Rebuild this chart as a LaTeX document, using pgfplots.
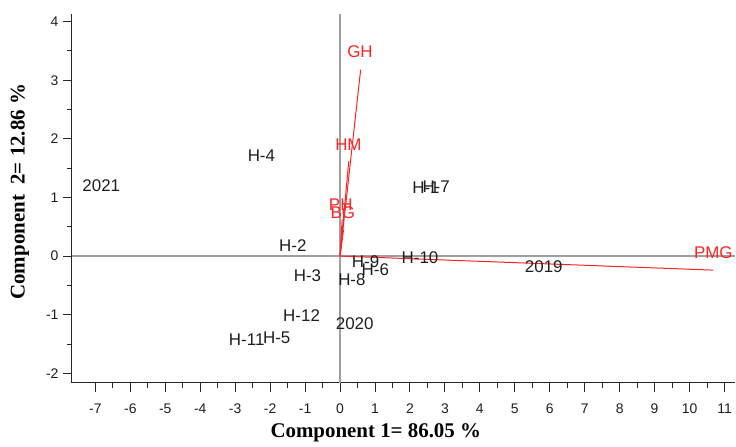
\documentclass[border=0pt]{standalone}
\usepackage{fontspec}
\setmainfont{Liberation Sans}
\newfontfamily\serif{Liberation Serif}
\usepackage{pgfplots}
\usepackage{pgfplotstable}
\pgfplotsset{compat=1.18}
\definecolor{vred}{RGB}{255,35,35}
\definecolor{txt}{RGB}{30,30,30}
\pgfplotstableread{
x y label
-6.83 1.20 2021
-2.25 1.72 H-4
-1.35 0.17 H-2
-0.93 -0.34 H-3
-1.10 -1.01 H-12
-2.67 -1.42 H-11
-1.81 -1.40 H-5
0.42 -1.15 2020
0.34 -0.40 H-8
0.73 -0.09 H-9
1.01 -0.23 H-6
2.29 -0.02 H-10
2.46 1.17 H-1
2.75 1.19 H-7
5.83 -0.18 2019
}\scores
\pgfplotstableread{
x y label
10.68 0.06 PMG
0.57 3.49 GH
0.24 1.90 HM
0.02 0.88 PH
0.08 0.74 BG
}\varlabels
\begin{document}
\begin{tikzpicture}
\begin{axis}[
  scale only axis,
  width=664bp, height=369bp,
  xmin=-7.67, xmax=11.31, ymin=-2.16, ymax=4.13,
  axis x line=bottom, axis y line=left,
  axis line style={-, black!85, line width=1bp},
  tick align=outside,
  xtick={-7,...,11}, ytick={-2,...,4},
  minor tick num=1,
  major tick length=9bp, minor tick length=5bp,
  tick style={black!85, line width=0.9bp},
  /pgf/number format/assume math mode=true,
  ticklabel style={font=\fontsize{14}{16}\selectfont, text=txt},
  xticklabel style={yshift=-9bp},
  yticklabel style={xshift=-1bp},
  xlabel={\serif\bfseries\fontsize{21}{24}\selectfont Component 1= 86.05 \%},
  ylabel={\serif\bfseries\fontsize{21}{24}\selectfont Component\ \ 2= 12.86 \%},
  every axis x label/.style={at={(rel axis cs:0.458,0)}, yshift=-50bp, anchor=center},
  every axis y label/.style={at={(rel axis cs:0,0.518)}, xshift=-52bp, rotate=90, anchor=center},
  clip=false,
]
\addplot[gray!75, line width=1.3bp] coordinates {(-7.67,0) (11.31,0)};
\addplot[gray!75, line width=1.3bp] coordinates {(0,-2.16) (0,4.13)};
\addplot[vred, line width=1bp] coordinates {(0,0) (10.68,-0.24)};
\addplot[vred, line width=1bp] coordinates {(0,0) (0.59,3.18)};
\addplot[vred, line width=1bp] coordinates {(0,0) (0.25,1.62)};
\addplot[vred, line width=1bp] coordinates {(0,0) (0.06,0.62)};
\addplot[vred, line width=1bp] coordinates {(0,0) (0.10,0.45)};
\addplot[only marks, mark=*, mark size=0pt, mark options={draw=none, fill=none},
  nodes near coords, point meta=explicit symbolic,
  every node near coord/.style={anchor=center, inner sep=0pt, text=txt, font=\fontsize{17}{19}\selectfont}]
  table[x=x, y=y, meta=label] {\scores};
\addplot[only marks, mark=*, mark size=0pt, mark options={draw=none, fill=none},
  nodes near coords, point meta=explicit symbolic,
  every node near coord/.style={anchor=center, inner sep=0pt, text=vred, font=\fontsize{17}{19}\selectfont}]
  table[x=x, y=y, meta=label] {\varlabels};
\end{axis}
\path[use as bounding box] ([xshift=-72bp,yshift=-64bp]current axis.south west) rectangle ([yshift=14bp]current axis.north east);
\end{tikzpicture}
\end{document}
